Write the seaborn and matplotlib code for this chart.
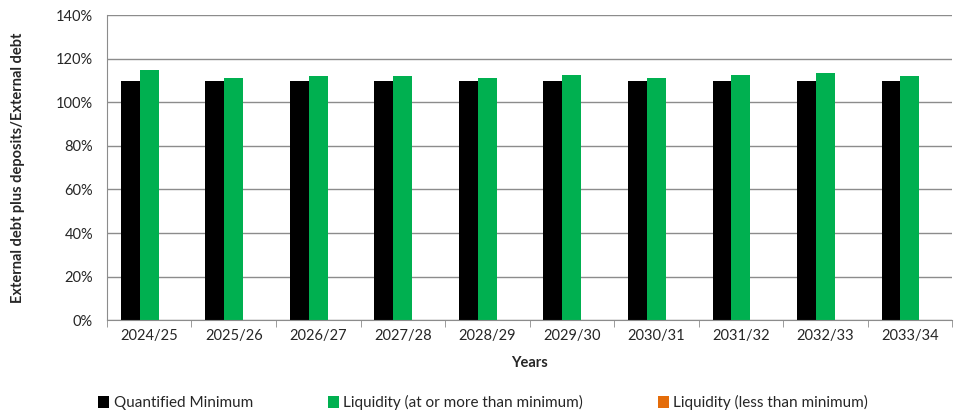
import pandas as pd
import numpy as np
import matplotlib
matplotlib.use("Agg")
import matplotlib.pyplot as plt
import seaborn as sns
from matplotlib.ticker import PercentFormatter
from matplotlib.patches import Patch

years = ["2024/25", "2025/26", "2026/27", "2027/28", "2028/29",
         "2029/30", "2030/31", "2031/32", "2032/33", "2033/34"]
quantified_min = [110, 110, 110, 110, 110, 110, 110, 110, 110, 110]
liquidity_ok = [114.8, 111.3, 111.9, 111.9, 111.3, 112.4, 111.3, 112.4, 113.6, 111.9]
liquidity_low = [np.nan] * 10

series_names = ["Quantified Minimum", "Liquidity (at or more than minimum)",
                "Liquidity (less than minimum)"]
colors = ["#000000", "#00B050", "#E46C0A"]

df = pd.DataFrame({
    "Year": years * 3,
    "Series": [series_names[0]] * 10 + [series_names[1]] * 10 + [series_names[2]] * 10,
    "Value": quantified_min + liquidity_ok + liquidity_low,
})

sns.set_style("white")
plt.rcParams["font.family"] = ["Lato", "DejaVu Sans"]

fig = plt.figure(figsize=(9.55, 4.11), dpi=100)
ax = fig.add_axes([0.112, 0.221, 0.885, 0.742])

sns.barplot(data=df, x="Year", y="Value", hue="Series", palette=colors,
            hue_order=series_names, width=0.67, saturation=1, gap=0,
            linewidth=0, edgecolor="none", ax=ax, legend=False)

ax.set_xlim(-0.5, len(years) - 0.5)
ax.set_ylim(0, 140)
ax.set_yticks(range(0, 141, 20))
ax.yaxis.set_major_formatter(PercentFormatter(decimals=0))
ax.set_xticks(np.arange(-0.5, len(years), 1), minor=True)
ax.grid(axis="y", color="#8c8c8c", linewidth=1)
ax.set_axisbelow(True)
for s in ["top", "right"]:
    ax.spines[s].set_visible(False)
for s in ["left", "bottom"]:
    ax.spines[s].set_color("#8c8c8c")
ax.tick_params(axis="y", length=6, color="#8c8c8c", labelsize=10.5, pad=4)
ax.tick_params(axis="x", which="major", length=0, labelsize=10.5, pad=6)
ax.tick_params(axis="x", which="minor", length=5, color="#8c8c8c", bottom=True)
ax.set_xlabel("Years", fontsize=10.5, fontweight="bold", labelpad=10)
ax.set_ylabel("External debt plus deposits/External debt", fontsize=10.5,
              fontweight="bold", labelpad=22)

handles = [Patch(facecolor=c, edgecolor="none") for c in colors]
fig.legend(handles, series_names, loc="center", bbox_to_anchor=(0.506, 0.02),
           ncol=3, frameon=False, fontsize=11, handlelength=0.7, handleheight=0.9,
           handletextpad=0.3, columnspacing=4.9)

fig.savefig("out.png", dpi=100)
